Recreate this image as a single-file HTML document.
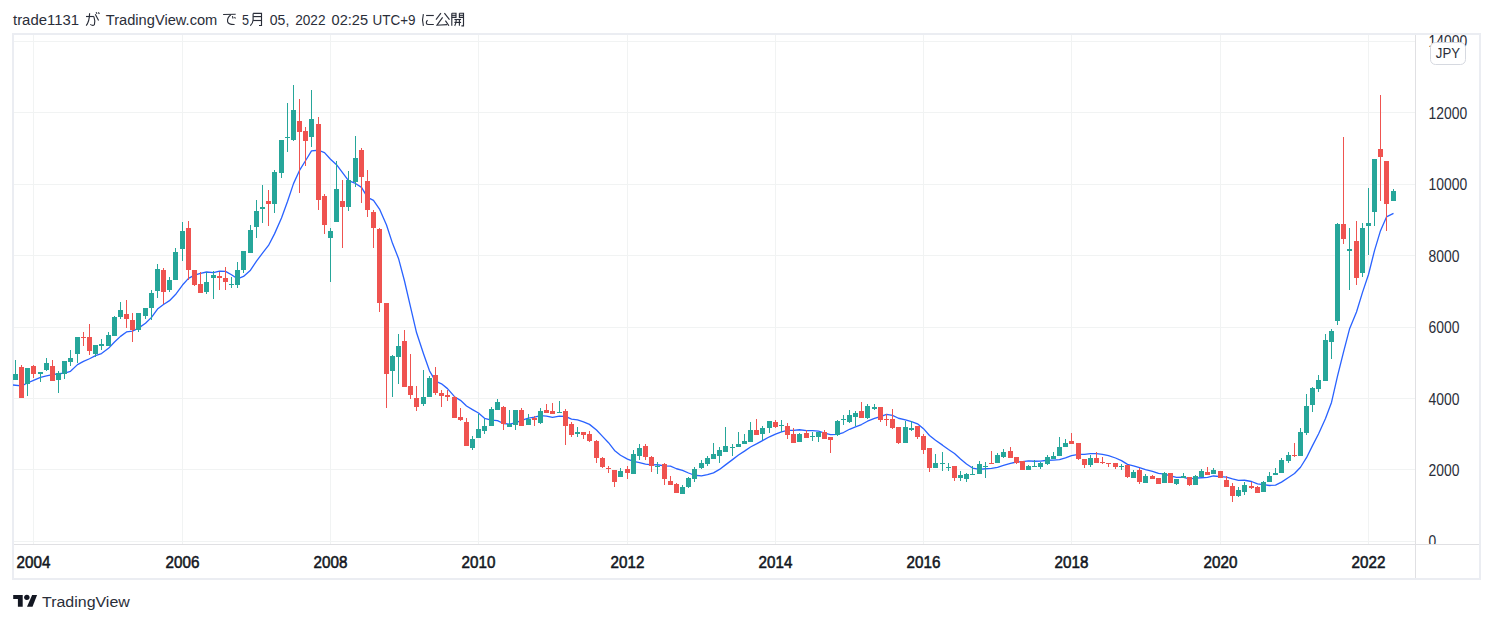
<!DOCTYPE html>
<html><head><meta charset="utf-8"><style>
html,body{margin:0;padding:0;background:#fff;}
body{width:1493px;height:623px;position:relative;overflow:hidden;font-family:"Liberation Sans",sans-serif;}
#hdr{position:absolute;left:13px;top:9px;font-size:15px;color:#434651;white-space:nowrap;line-height:18px;}
svg{position:absolute;left:0;top:0;}
.pl{font-size:16px;fill:#2a2e39;font-family:"Liberation Sans",sans-serif;}
.tl{font-size:16px;font-weight:normal;fill:#131722;stroke:#131722;stroke-width:0.55px;font-family:"Liberation Sans",sans-serif;}
.hd{font-size:15.5px;fill:#2a2e39;font-family:"Liberation Sans",sans-serif;}
.hdj{font-size:14px;fill:#2a2e39;font-family:"Liberation Sans",sans-serif;}
.lg{font-size:15.5px;fill:#2a2e39;font-family:"Liberation Sans",sans-serif;}
.jpy{font-size:15px;fill:#2a2e39;font-family:"Liberation Sans",sans-serif;}
#logo{position:absolute;left:13px;top:592px;}
#logotxt{position:absolute;left:42px;top:591px;font-size:16px;color:#131722;line-height:20px;}
</style></head><body>
<svg width="1493" height="623" viewBox="0 0 1493 623" shape-rendering="crispEdges">
<rect x="14" y="41" width="1401" height="1" fill="#f1f3f3"/><rect x="14" y="112" width="1401" height="1" fill="#f1f3f3"/><rect x="14" y="184" width="1401" height="1" fill="#f1f3f3"/><rect x="14" y="255" width="1401" height="1" fill="#f1f3f3"/><rect x="14" y="327" width="1401" height="1" fill="#f1f3f3"/><rect x="14" y="398" width="1401" height="1" fill="#f1f3f3"/><rect x="14" y="469" width="1401" height="1" fill="#f1f3f3"/><rect x="14" y="541" width="1401" height="1" fill="#f1f3f3"/><rect x="33" y="35" width="1" height="509" fill="#f1f3f3"/><rect x="182" y="35" width="1" height="509" fill="#f1f3f3"/><rect x="330" y="35" width="1" height="509" fill="#f1f3f3"/><rect x="478" y="35" width="1" height="509" fill="#f1f3f3"/><rect x="627" y="35" width="1" height="509" fill="#f1f3f3"/><rect x="775" y="35" width="1" height="509" fill="#f1f3f3"/><rect x="923" y="35" width="1" height="509" fill="#f1f3f3"/><rect x="1071" y="35" width="1" height="509" fill="#f1f3f3"/><rect x="1220" y="35" width="1" height="509" fill="#f1f3f3"/><rect x="1368" y="35" width="1" height="509" fill="#f1f3f3"/>
<rect x="13" y="34" width="1467" height="545" fill="none" stroke="#ebedf2" stroke-width="2"/>
<path d="M13.00,385.00 L21.50,385.89 L27.50,382.99 L33.50,380.31 L40.50,377.33 L46.50,375.79 L52.50,374.70 L58.50,373.74 L64.50,373.09 L70.50,371.33 L77.50,364.62 L83.50,361.31 L89.50,358.74 L95.50,355.68 L101.50,353.52 L108.50,348.35 L114.50,342.04 L120.50,336.35 L126.50,331.97 L132.50,331.05 L138.50,328.13 L145.50,323.22 L151.50,317.37 L157.50,309.06 L163.50,304.43 L169.50,300.67 L175.50,294.57 L182.50,285.04 L188.50,278.34 L194.50,275.10 L200.50,273.28 L206.50,272.00 L213.50,272.70 L219.50,271.18 L225.50,271.33 L231.50,274.72 L237.50,278.81 L243.50,276.44 L250.50,270.16 L256.50,261.18 L262.50,253.14 L268.50,245.47 L274.50,233.87 L281.50,218.08 L287.50,201.56 L293.50,183.61 L299.50,170.46 L305.50,160.75 L311.50,150.87 L318.50,150.24 L324.50,152.64 L330.50,159.21 L336.50,164.72 L342.50,172.65 L348.50,180.54 L355.50,183.43 L361.50,187.35 L367.50,197.31 L373.50,200.42 L379.50,209.11 L386.50,225.01 L392.50,243.35 L398.50,258.42 L404.50,280.98 L410.50,306.97 L416.50,332.56 L423.50,353.77 L429.50,370.80 L435.50,381.14 L441.50,383.83 L447.50,388.62 L454.50,396.68 L460.50,400.34 L466.50,406.02 L472.50,409.59 L478.50,413.03 L484.50,418.35 L491.50,420.08 L497.50,420.64 L503.50,423.52 L509.50,424.09 L515.50,422.82 L521.50,420.47 L528.50,418.14 L534.50,417.21 L540.50,415.56 L546.50,416.05 L552.50,417.39 L559.50,416.06 L565.50,416.31 L571.50,419.12 L577.50,419.92 L583.50,421.84 L589.50,424.38 L596.50,430.04 L602.50,436.38 L608.50,442.69 L614.50,450.40 L620.50,455.22 L627.50,459.11 L633.50,461.29 L639.50,462.56 L645.50,464.11 L651.50,464.88 L657.50,464.76 L664.50,465.82 L670.50,466.21 L676.50,468.75 L682.50,470.37 L688.50,473.00 L694.50,475.24 L701.50,475.78 L707.50,474.56 L713.50,472.89 L719.50,469.40 L725.50,464.87 L732.50,459.63 L738.50,455.00 L744.50,451.13 L750.50,447.02 L756.50,443.93 L762.50,440.58 L769.50,436.79 L775.50,434.12 L781.50,431.78 L787.50,430.47 L793.50,430.43 L799.50,429.74 L806.50,430.61 L812.50,430.70 L818.50,431.15 L824.50,433.14 L830.50,434.68 L837.50,434.28 L843.50,432.51 L849.50,429.29 L855.50,426.81 L861.50,424.52 L867.50,421.21 L874.50,418.48 L880.50,416.52 L886.50,414.48 L892.50,415.41 L898.50,418.25 L905.50,419.83 L911.50,421.63 L917.50,423.80 L923.50,428.69 L929.50,435.47 L935.50,440.29 L942.50,445.15 L948.50,449.57 L954.50,453.55 L960.50,458.93 L966.50,464.05 L972.50,468.07 L979.50,469.38 L985.50,468.76 L991.50,468.47 L997.50,467.30 L1003.50,465.48 L1010.50,463.28 L1016.50,462.01 L1022.50,461.65 L1028.50,460.91 L1034.50,461.24 L1040.50,461.05 L1047.50,460.25 L1053.50,460.17 L1059.50,459.54 L1065.50,457.82 L1071.50,455.68 L1078.50,454.47 L1084.50,454.40 L1090.50,453.59 L1096.50,453.68 L1102.50,454.45 L1108.50,455.60 L1115.50,458.00 L1121.50,460.59 L1127.50,464.34 L1133.50,465.83 L1139.50,467.72 L1145.50,469.65 L1152.50,471.27 L1158.50,473.40 L1164.50,474.21 L1170.50,475.85 L1176.50,477.32 L1183.50,477.27 L1189.50,478.78 L1195.50,478.20 L1201.50,477.76 L1207.50,477.42 L1213.50,475.99 L1220.50,476.62 L1226.50,477.08 L1232.50,478.90 L1238.50,480.35 L1244.50,480.26 L1251.50,481.51 L1257.50,483.90 L1263.50,484.71 L1269.50,485.49 L1275.50,485.04 L1281.50,482.15 L1288.50,477.56 L1294.50,473.54 L1300.50,467.24 L1306.50,457.69 L1312.50,445.64 L1318.50,433.95 L1325.50,418.44 L1331.50,402.40 L1337.50,376.09 L1343.50,352.09 L1349.50,329.09 L1356.50,311.95 L1362.50,292.37 L1368.50,274.52 L1374.50,250.57 L1380.50,230.68 L1386.50,216.89 L1393.50,213.36" fill="none" stroke="#2962ff" stroke-width="1.3" stroke-linejoin="round" shape-rendering="geometricPrecision"/>
<rect x="15" y="360" width="1" height="20" fill="#26a69a"/><rect x="13" y="374" width="5" height="6" fill="#26a69a"/><rect x="21" y="365" width="1" height="33" fill="#ef5350"/><rect x="19" y="367" width="5" height="31" fill="#ef5350"/><rect x="27" y="368" width="1" height="28" fill="#26a69a"/><rect x="25" y="368" width="5" height="16" fill="#26a69a"/><rect x="33" y="365" width="1" height="13" fill="#ef5350"/><rect x="31" y="366" width="5" height="8" fill="#ef5350"/><rect x="40" y="372" width="1" height="10" fill="#26a69a"/><rect x="38" y="372" width="5" height="2" fill="#26a69a"/><rect x="46" y="358" width="1" height="13" fill="#26a69a"/><rect x="44" y="363" width="5" height="7" fill="#26a69a"/><rect x="52" y="360" width="1" height="21" fill="#ef5350"/><rect x="50" y="366" width="5" height="15" fill="#ef5350"/><rect x="58" y="371" width="1" height="22" fill="#26a69a"/><rect x="56" y="373" width="5" height="7" fill="#26a69a"/><rect x="64" y="361" width="1" height="18" fill="#26a69a"/><rect x="62" y="361" width="5" height="13" fill="#26a69a"/><rect x="70" y="350" width="1" height="16" fill="#26a69a"/><rect x="68" y="358" width="5" height="4" fill="#26a69a"/><rect x="77" y="337" width="1" height="26" fill="#26a69a"/><rect x="75" y="337" width="5" height="17" fill="#26a69a"/><rect x="83" y="332" width="1" height="14" fill="#ef5350"/><rect x="81" y="337" width="5" height="1" fill="#ef5350"/><rect x="89" y="324" width="1" height="31" fill="#ef5350"/><rect x="87" y="337" width="5" height="14" fill="#ef5350"/><rect x="95" y="345" width="1" height="12" fill="#26a69a"/><rect x="93" y="345" width="5" height="9" fill="#26a69a"/><rect x="101" y="339" width="1" height="11" fill="#26a69a"/><rect x="99" y="344" width="5" height="2" fill="#26a69a"/><rect x="108" y="332" width="1" height="14" fill="#26a69a"/><rect x="106" y="335" width="5" height="11" fill="#26a69a"/><rect x="114" y="316" width="1" height="20" fill="#26a69a"/><rect x="112" y="317" width="5" height="19" fill="#26a69a"/><rect x="120" y="302" width="1" height="17" fill="#26a69a"/><rect x="118" y="310" width="5" height="7" fill="#26a69a"/><rect x="126" y="300" width="1" height="28" fill="#ef5350"/><rect x="124" y="314" width="5" height="5" fill="#ef5350"/><rect x="132" y="313" width="1" height="29" fill="#ef5350"/><rect x="130" y="320" width="5" height="10" fill="#ef5350"/><rect x="138" y="313" width="1" height="19" fill="#26a69a"/><rect x="136" y="313" width="5" height="17" fill="#26a69a"/><rect x="145" y="308" width="1" height="11" fill="#26a69a"/><rect x="143" y="308" width="5" height="8" fill="#26a69a"/><rect x="151" y="290" width="1" height="30" fill="#26a69a"/><rect x="149" y="293" width="5" height="15" fill="#26a69a"/><rect x="157" y="264" width="1" height="34" fill="#26a69a"/><rect x="155" y="269" width="5" height="22" fill="#26a69a"/><rect x="163" y="268" width="1" height="36" fill="#ef5350"/><rect x="161" y="270" width="5" height="22" fill="#ef5350"/><rect x="169" y="277" width="1" height="15" fill="#26a69a"/><rect x="167" y="280" width="5" height="10" fill="#26a69a"/><rect x="175" y="248" width="1" height="32" fill="#26a69a"/><rect x="173" y="252" width="5" height="28" fill="#26a69a"/><rect x="182" y="222" width="1" height="39" fill="#26a69a"/><rect x="180" y="231" width="5" height="18" fill="#26a69a"/><rect x="188" y="221" width="1" height="59" fill="#ef5350"/><rect x="186" y="228" width="5" height="42" fill="#ef5350"/><rect x="194" y="270" width="1" height="16" fill="#ef5350"/><rect x="192" y="270" width="5" height="15" fill="#ef5350"/><rect x="200" y="272" width="1" height="21" fill="#ef5350"/><rect x="198" y="284" width="5" height="9" fill="#ef5350"/><rect x="206" y="272" width="1" height="22" fill="#26a69a"/><rect x="204" y="282" width="5" height="10" fill="#26a69a"/><rect x="213" y="271" width="1" height="28" fill="#26a69a"/><rect x="211" y="275" width="5" height="3" fill="#26a69a"/><rect x="219" y="272" width="1" height="18" fill="#ef5350"/><rect x="217" y="276" width="5" height="2" fill="#ef5350"/><rect x="225" y="267" width="1" height="23" fill="#ef5350"/><rect x="223" y="278" width="5" height="4" fill="#ef5350"/><rect x="231" y="277" width="1" height="11" fill="#26a69a"/><rect x="229" y="284" width="5" height="1" fill="#26a69a"/><rect x="237" y="262" width="1" height="26" fill="#26a69a"/><rect x="235" y="270" width="5" height="15" fill="#26a69a"/><rect x="243" y="251" width="1" height="22" fill="#26a69a"/><rect x="241" y="251" width="5" height="19" fill="#26a69a"/><rect x="250" y="225" width="1" height="28" fill="#26a69a"/><rect x="248" y="230" width="5" height="23" fill="#26a69a"/><rect x="256" y="200" width="1" height="38" fill="#26a69a"/><rect x="254" y="211" width="5" height="16" fill="#26a69a"/><rect x="262" y="185" width="1" height="38" fill="#26a69a"/><rect x="260" y="207" width="5" height="2" fill="#26a69a"/><rect x="268" y="190" width="1" height="36" fill="#ef5350"/><rect x="266" y="201" width="5" height="3" fill="#ef5350"/><rect x="274" y="170" width="1" height="43" fill="#26a69a"/><rect x="272" y="172" width="5" height="32" fill="#26a69a"/><rect x="281" y="140" width="1" height="38" fill="#26a69a"/><rect x="279" y="140" width="5" height="33" fill="#26a69a"/><rect x="287" y="103" width="1" height="49" fill="#26a69a"/><rect x="285" y="137" width="5" height="1" fill="#26a69a"/><rect x="293" y="85" width="1" height="56" fill="#26a69a"/><rect x="291" y="110" width="5" height="30" fill="#26a69a"/><rect x="299" y="99" width="1" height="94" fill="#ef5350"/><rect x="297" y="121" width="5" height="11" fill="#ef5350"/><rect x="305" y="127" width="1" height="39" fill="#ef5350"/><rect x="303" y="131" width="5" height="10" fill="#ef5350"/><rect x="311" y="90" width="1" height="57" fill="#26a69a"/><rect x="309" y="119" width="5" height="18" fill="#26a69a"/><rect x="318" y="117" width="1" height="93" fill="#ef5350"/><rect x="316" y="124" width="5" height="76" fill="#ef5350"/><rect x="324" y="194" width="1" height="40" fill="#ef5350"/><rect x="322" y="196" width="5" height="29" fill="#ef5350"/><rect x="330" y="228" width="1" height="54" fill="#26a69a"/><rect x="328" y="231" width="5" height="7" fill="#26a69a"/><rect x="336" y="161" width="1" height="61" fill="#26a69a"/><rect x="334" y="189" width="5" height="33" fill="#26a69a"/><rect x="342" y="180" width="1" height="68" fill="#ef5350"/><rect x="340" y="201" width="5" height="6" fill="#ef5350"/><rect x="348" y="171" width="1" height="40" fill="#26a69a"/><rect x="346" y="180" width="5" height="27" fill="#26a69a"/><rect x="355" y="136" width="1" height="51" fill="#26a69a"/><rect x="353" y="158" width="5" height="24" fill="#26a69a"/><rect x="361" y="148" width="1" height="55" fill="#ef5350"/><rect x="359" y="150" width="5" height="27" fill="#ef5350"/><rect x="367" y="170" width="1" height="47" fill="#ef5350"/><rect x="365" y="181" width="5" height="29" fill="#ef5350"/><rect x="373" y="210" width="1" height="38" fill="#ef5350"/><rect x="371" y="212" width="5" height="16" fill="#ef5350"/><rect x="379" y="228" width="1" height="84" fill="#ef5350"/><rect x="377" y="229" width="5" height="74" fill="#ef5350"/><rect x="386" y="303" width="1" height="105" fill="#ef5350"/><rect x="384" y="303" width="5" height="71" fill="#ef5350"/><rect x="392" y="355" width="1" height="42" fill="#26a69a"/><rect x="390" y="356" width="5" height="15" fill="#26a69a"/><rect x="398" y="334" width="1" height="50" fill="#26a69a"/><rect x="396" y="346" width="5" height="11" fill="#26a69a"/><rect x="404" y="330" width="1" height="57" fill="#ef5350"/><rect x="402" y="341" width="5" height="46" fill="#ef5350"/><rect x="410" y="354" width="1" height="45" fill="#ef5350"/><rect x="408" y="386" width="5" height="9" fill="#ef5350"/><rect x="416" y="386" width="1" height="25" fill="#ef5350"/><rect x="414" y="398" width="5" height="9" fill="#ef5350"/><rect x="423" y="370" width="1" height="36" fill="#26a69a"/><rect x="421" y="397" width="5" height="7" fill="#26a69a"/><rect x="429" y="376" width="1" height="21" fill="#26a69a"/><rect x="427" y="378" width="5" height="19" fill="#26a69a"/><rect x="435" y="367" width="1" height="28" fill="#ef5350"/><rect x="433" y="375" width="5" height="18" fill="#ef5350"/><rect x="441" y="390" width="1" height="17" fill="#ef5350"/><rect x="439" y="393" width="5" height="3" fill="#ef5350"/><rect x="447" y="390" width="1" height="11" fill="#ef5350"/><rect x="445" y="395" width="5" height="2" fill="#ef5350"/><rect x="454" y="396" width="1" height="22" fill="#ef5350"/><rect x="452" y="397" width="5" height="21" fill="#ef5350"/><rect x="460" y="408" width="1" height="13" fill="#ef5350"/><rect x="458" y="417" width="5" height="3" fill="#ef5350"/><rect x="466" y="418" width="1" height="28" fill="#ef5350"/><rect x="464" y="422" width="5" height="24" fill="#ef5350"/><rect x="472" y="436" width="1" height="14" fill="#26a69a"/><rect x="470" y="439" width="5" height="9" fill="#26a69a"/><rect x="478" y="414" width="1" height="24" fill="#26a69a"/><rect x="476" y="429" width="5" height="9" fill="#26a69a"/><rect x="484" y="419" width="1" height="15" fill="#26a69a"/><rect x="482" y="426" width="5" height="5" fill="#26a69a"/><rect x="491" y="407" width="1" height="19" fill="#26a69a"/><rect x="489" y="409" width="5" height="17" fill="#26a69a"/><rect x="497" y="399" width="1" height="11" fill="#26a69a"/><rect x="495" y="402" width="5" height="8" fill="#26a69a"/><rect x="503" y="406" width="1" height="24" fill="#ef5350"/><rect x="501" y="407" width="5" height="17" fill="#ef5350"/><rect x="509" y="410" width="1" height="17" fill="#26a69a"/><rect x="507" y="424" width="5" height="3" fill="#26a69a"/><rect x="515" y="410" width="1" height="20" fill="#26a69a"/><rect x="513" y="410" width="5" height="15" fill="#26a69a"/><rect x="521" y="408" width="1" height="18" fill="#ef5350"/><rect x="519" y="410" width="5" height="16" fill="#ef5350"/><rect x="528" y="414" width="1" height="11" fill="#26a69a"/><rect x="526" y="419" width="5" height="6" fill="#26a69a"/><rect x="534" y="416" width="1" height="10" fill="#ef5350"/><rect x="532" y="418" width="5" height="2" fill="#ef5350"/><rect x="540" y="408" width="1" height="16" fill="#26a69a"/><rect x="538" y="411" width="5" height="12" fill="#26a69a"/><rect x="546" y="404" width="1" height="9" fill="#ef5350"/><rect x="544" y="410" width="5" height="3" fill="#ef5350"/><rect x="552" y="403" width="1" height="11" fill="#ef5350"/><rect x="550" y="411" width="5" height="3" fill="#ef5350"/><rect x="559" y="401" width="1" height="12" fill="#26a69a"/><rect x="557" y="412" width="5" height="1" fill="#26a69a"/><rect x="565" y="409" width="1" height="36" fill="#ef5350"/><rect x="563" y="411" width="5" height="15" fill="#ef5350"/><rect x="571" y="422" width="1" height="15" fill="#ef5350"/><rect x="569" y="424" width="5" height="11" fill="#ef5350"/><rect x="577" y="427" width="1" height="10" fill="#26a69a"/><rect x="575" y="432" width="5" height="2" fill="#26a69a"/><rect x="583" y="432" width="1" height="7" fill="#ef5350"/><rect x="581" y="432" width="5" height="3" fill="#ef5350"/><rect x="589" y="431" width="1" height="11" fill="#ef5350"/><rect x="587" y="434" width="5" height="7" fill="#ef5350"/><rect x="596" y="440" width="1" height="23" fill="#ef5350"/><rect x="594" y="441" width="5" height="17" fill="#ef5350"/><rect x="602" y="457" width="1" height="11" fill="#ef5350"/><rect x="600" y="458" width="5" height="9" fill="#ef5350"/><rect x="608" y="466" width="1" height="7" fill="#ef5350"/><rect x="606" y="468" width="5" height="1" fill="#ef5350"/><rect x="614" y="470" width="1" height="17" fill="#ef5350"/><rect x="612" y="470" width="5" height="12" fill="#ef5350"/><rect x="620" y="468" width="1" height="9" fill="#26a69a"/><rect x="618" y="471" width="5" height="6" fill="#26a69a"/><rect x="627" y="466" width="1" height="13" fill="#ef5350"/><rect x="625" y="469" width="5" height="4" fill="#ef5350"/><rect x="633" y="450" width="1" height="24" fill="#26a69a"/><rect x="631" y="454" width="5" height="20" fill="#26a69a"/><rect x="639" y="444" width="1" height="16" fill="#26a69a"/><rect x="637" y="448" width="5" height="8" fill="#26a69a"/><rect x="645" y="444" width="1" height="16" fill="#ef5350"/><rect x="643" y="446" width="5" height="11" fill="#ef5350"/><rect x="651" y="456" width="1" height="16" fill="#ef5350"/><rect x="649" y="457" width="5" height="9" fill="#ef5350"/><rect x="657" y="462" width="1" height="12" fill="#26a69a"/><rect x="655" y="466" width="5" height="1" fill="#26a69a"/><rect x="664" y="463" width="1" height="22" fill="#ef5350"/><rect x="662" y="464" width="5" height="15" fill="#ef5350"/><rect x="670" y="476" width="1" height="9" fill="#ef5350"/><rect x="668" y="481" width="5" height="4" fill="#ef5350"/><rect x="676" y="483" width="1" height="10" fill="#ef5350"/><rect x="674" y="484" width="5" height="9" fill="#ef5350"/><rect x="682" y="485" width="1" height="9" fill="#26a69a"/><rect x="680" y="487" width="5" height="7" fill="#26a69a"/><rect x="688" y="477" width="1" height="11" fill="#26a69a"/><rect x="686" y="478" width="5" height="9" fill="#26a69a"/><rect x="694" y="467" width="1" height="15" fill="#26a69a"/><rect x="692" y="469" width="5" height="10" fill="#26a69a"/><rect x="701" y="460" width="1" height="9" fill="#26a69a"/><rect x="699" y="463" width="5" height="5" fill="#26a69a"/><rect x="707" y="456" width="1" height="10" fill="#26a69a"/><rect x="705" y="458" width="5" height="6" fill="#26a69a"/><rect x="713" y="443" width="1" height="16" fill="#26a69a"/><rect x="711" y="454" width="5" height="5" fill="#26a69a"/><rect x="719" y="447" width="1" height="16" fill="#26a69a"/><rect x="717" y="450" width="5" height="6" fill="#26a69a"/><rect x="725" y="427" width="1" height="25" fill="#26a69a"/><rect x="723" y="446" width="5" height="6" fill="#26a69a"/><rect x="732" y="444" width="1" height="12" fill="#26a69a"/><rect x="730" y="447" width="5" height="1" fill="#26a69a"/><rect x="738" y="432" width="1" height="15" fill="#26a69a"/><rect x="736" y="444" width="5" height="3" fill="#26a69a"/><rect x="744" y="434" width="1" height="10" fill="#26a69a"/><rect x="742" y="441" width="5" height="3" fill="#26a69a"/><rect x="750" y="422" width="1" height="20" fill="#26a69a"/><rect x="748" y="430" width="5" height="12" fill="#26a69a"/><rect x="756" y="419" width="1" height="16" fill="#ef5350"/><rect x="754" y="430" width="5" height="5" fill="#ef5350"/><rect x="762" y="426" width="1" height="14" fill="#26a69a"/><rect x="760" y="428" width="5" height="6" fill="#26a69a"/><rect x="769" y="421" width="1" height="12" fill="#26a69a"/><rect x="767" y="421" width="5" height="7" fill="#26a69a"/><rect x="775" y="420" width="1" height="8" fill="#ef5350"/><rect x="773" y="422" width="5" height="5" fill="#ef5350"/><rect x="781" y="420" width="1" height="12" fill="#26a69a"/><rect x="779" y="425" width="5" height="1" fill="#26a69a"/><rect x="787" y="423" width="1" height="16" fill="#ef5350"/><rect x="785" y="426" width="5" height="9" fill="#ef5350"/><rect x="793" y="428" width="1" height="15" fill="#ef5350"/><rect x="791" y="434" width="5" height="9" fill="#ef5350"/><rect x="799" y="433" width="1" height="9" fill="#26a69a"/><rect x="797" y="434" width="5" height="8" fill="#26a69a"/><rect x="806" y="430" width="1" height="8" fill="#ef5350"/><rect x="804" y="433" width="5" height="5" fill="#ef5350"/><rect x="812" y="432" width="1" height="9" fill="#26a69a"/><rect x="810" y="436" width="5" height="1" fill="#26a69a"/><rect x="818" y="432" width="1" height="10" fill="#26a69a"/><rect x="816" y="432" width="5" height="5" fill="#26a69a"/><rect x="824" y="430" width="1" height="9" fill="#ef5350"/><rect x="822" y="432" width="5" height="7" fill="#ef5350"/><rect x="830" y="437" width="1" height="16" fill="#ef5350"/><rect x="828" y="437" width="5" height="3" fill="#ef5350"/><rect x="837" y="420" width="1" height="16" fill="#26a69a"/><rect x="835" y="421" width="5" height="14" fill="#26a69a"/><rect x="843" y="415" width="1" height="10" fill="#26a69a"/><rect x="841" y="419" width="5" height="1" fill="#26a69a"/><rect x="849" y="410" width="1" height="13" fill="#26a69a"/><rect x="847" y="415" width="5" height="7" fill="#26a69a"/><rect x="855" y="411" width="1" height="15" fill="#26a69a"/><rect x="853" y="413" width="5" height="4" fill="#26a69a"/><rect x="861" y="402" width="1" height="16" fill="#ef5350"/><rect x="859" y="411" width="5" height="7" fill="#ef5350"/><rect x="867" y="404" width="1" height="15" fill="#26a69a"/><rect x="865" y="406" width="5" height="12" fill="#26a69a"/><rect x="874" y="404" width="1" height="6" fill="#26a69a"/><rect x="872" y="407" width="5" height="2" fill="#26a69a"/><rect x="880" y="407" width="1" height="15" fill="#ef5350"/><rect x="878" y="407" width="5" height="13" fill="#ef5350"/><rect x="886" y="414" width="1" height="12" fill="#ef5350"/><rect x="884" y="419" width="5" height="1" fill="#ef5350"/><rect x="892" y="409" width="1" height="20" fill="#ef5350"/><rect x="890" y="419" width="5" height="9" fill="#ef5350"/><rect x="898" y="427" width="1" height="17" fill="#ef5350"/><rect x="896" y="427" width="5" height="16" fill="#ef5350"/><rect x="905" y="421" width="1" height="22" fill="#26a69a"/><rect x="903" y="427" width="5" height="16" fill="#26a69a"/><rect x="911" y="421" width="1" height="10" fill="#26a69a"/><rect x="909" y="428" width="5" height="2" fill="#26a69a"/><rect x="917" y="426" width="1" height="13" fill="#ef5350"/><rect x="915" y="426" width="5" height="11" fill="#ef5350"/><rect x="923" y="434" width="1" height="20" fill="#ef5350"/><rect x="921" y="436" width="5" height="14" fill="#ef5350"/><rect x="929" y="448" width="1" height="24" fill="#ef5350"/><rect x="927" y="448" width="5" height="20" fill="#ef5350"/><rect x="935" y="454" width="1" height="14" fill="#26a69a"/><rect x="933" y="463" width="5" height="5" fill="#26a69a"/><rect x="942" y="452" width="1" height="19" fill="#26a69a"/><rect x="940" y="463" width="5" height="1" fill="#26a69a"/><rect x="948" y="463" width="1" height="8" fill="#26a69a"/><rect x="946" y="467" width="5" height="1" fill="#26a69a"/><rect x="954" y="466" width="1" height="15" fill="#ef5350"/><rect x="952" y="466" width="5" height="12" fill="#ef5350"/><rect x="960" y="471" width="1" height="10" fill="#26a69a"/><rect x="958" y="475" width="5" height="3" fill="#26a69a"/><rect x="966" y="473" width="1" height="9" fill="#26a69a"/><rect x="964" y="474" width="5" height="5" fill="#26a69a"/><rect x="972" y="466" width="1" height="9" fill="#26a69a"/><rect x="970" y="474" width="5" height="1" fill="#26a69a"/><rect x="979" y="461" width="1" height="13" fill="#26a69a"/><rect x="977" y="464" width="5" height="10" fill="#26a69a"/><rect x="985" y="462" width="1" height="16" fill="#26a69a"/><rect x="983" y="466" width="5" height="1" fill="#26a69a"/><rect x="991" y="451" width="1" height="13" fill="#ef5350"/><rect x="989" y="463" width="5" height="1" fill="#ef5350"/><rect x="997" y="453" width="1" height="10" fill="#26a69a"/><rect x="995" y="455" width="5" height="8" fill="#26a69a"/><rect x="1003" y="449" width="1" height="9" fill="#26a69a"/><rect x="1001" y="452" width="5" height="5" fill="#26a69a"/><rect x="1010" y="447" width="1" height="11" fill="#ef5350"/><rect x="1008" y="451" width="5" height="7" fill="#ef5350"/><rect x="1016" y="457" width="1" height="7" fill="#ef5350"/><rect x="1014" y="457" width="5" height="6" fill="#ef5350"/><rect x="1022" y="461" width="1" height="9" fill="#ef5350"/><rect x="1020" y="461" width="5" height="9" fill="#ef5350"/><rect x="1028" y="465" width="1" height="5" fill="#26a69a"/><rect x="1026" y="466" width="5" height="4" fill="#26a69a"/><rect x="1034" y="460" width="1" height="7" fill="#26a69a"/><rect x="1032" y="466" width="5" height="1" fill="#26a69a"/><rect x="1040" y="462" width="1" height="7" fill="#26a69a"/><rect x="1038" y="463" width="5" height="4" fill="#26a69a"/><rect x="1047" y="455" width="1" height="10" fill="#26a69a"/><rect x="1045" y="457" width="5" height="7" fill="#26a69a"/><rect x="1053" y="452" width="1" height="7" fill="#26a69a"/><rect x="1051" y="456" width="5" height="3" fill="#26a69a"/><rect x="1059" y="437" width="1" height="19" fill="#26a69a"/><rect x="1057" y="447" width="5" height="9" fill="#26a69a"/><rect x="1065" y="439" width="1" height="8" fill="#26a69a"/><rect x="1063" y="443" width="5" height="4" fill="#26a69a"/><rect x="1071" y="433" width="1" height="11" fill="#ef5350"/><rect x="1069" y="441" width="5" height="3" fill="#ef5350"/><rect x="1078" y="443" width="1" height="17" fill="#ef5350"/><rect x="1076" y="443" width="5" height="16" fill="#ef5350"/><rect x="1084" y="459" width="1" height="9" fill="#ef5350"/><rect x="1082" y="459" width="5" height="6" fill="#ef5350"/><rect x="1090" y="455" width="1" height="12" fill="#26a69a"/><rect x="1088" y="458" width="5" height="7" fill="#26a69a"/><rect x="1096" y="452" width="1" height="11" fill="#ef5350"/><rect x="1094" y="458" width="5" height="5" fill="#ef5350"/><rect x="1102" y="457" width="1" height="7" fill="#ef5350"/><rect x="1100" y="462" width="5" height="1" fill="#ef5350"/><rect x="1108" y="463" width="1" height="4" fill="#ef5350"/><rect x="1106" y="463" width="5" height="1" fill="#ef5350"/><rect x="1115" y="463" width="1" height="6" fill="#ef5350"/><rect x="1113" y="463" width="5" height="4" fill="#ef5350"/><rect x="1121" y="464" width="1" height="6" fill="#26a69a"/><rect x="1119" y="466" width="5" height="1" fill="#26a69a"/><rect x="1127" y="465" width="1" height="13" fill="#ef5350"/><rect x="1125" y="465" width="5" height="12" fill="#ef5350"/><rect x="1133" y="470" width="1" height="8" fill="#26a69a"/><rect x="1131" y="472" width="5" height="6" fill="#26a69a"/><rect x="1139" y="468" width="1" height="16" fill="#ef5350"/><rect x="1137" y="470" width="5" height="12" fill="#ef5350"/><rect x="1145" y="474" width="1" height="9" fill="#26a69a"/><rect x="1143" y="476" width="5" height="7" fill="#26a69a"/><rect x="1152" y="475" width="1" height="4" fill="#ef5350"/><rect x="1150" y="476" width="5" height="3" fill="#ef5350"/><rect x="1158" y="478" width="1" height="6" fill="#ef5350"/><rect x="1156" y="478" width="5" height="6" fill="#ef5350"/><rect x="1164" y="472" width="1" height="11" fill="#26a69a"/><rect x="1162" y="473" width="5" height="10" fill="#26a69a"/><rect x="1170" y="473" width="1" height="10" fill="#ef5350"/><rect x="1168" y="473" width="5" height="10" fill="#ef5350"/><rect x="1176" y="479" width="1" height="6" fill="#26a69a"/><rect x="1174" y="479" width="5" height="5" fill="#26a69a"/><rect x="1183" y="473" width="1" height="5" fill="#26a69a"/><rect x="1181" y="476" width="5" height="2" fill="#26a69a"/><rect x="1189" y="477" width="1" height="9" fill="#ef5350"/><rect x="1187" y="477" width="5" height="8" fill="#ef5350"/><rect x="1195" y="475" width="1" height="10" fill="#26a69a"/><rect x="1193" y="476" width="5" height="9" fill="#26a69a"/><rect x="1201" y="469" width="1" height="8" fill="#26a69a"/><rect x="1199" y="471" width="5" height="6" fill="#26a69a"/><rect x="1207" y="467" width="1" height="8" fill="#ef5350"/><rect x="1205" y="472" width="5" height="3" fill="#ef5350"/><rect x="1213" y="468" width="1" height="6" fill="#26a69a"/><rect x="1211" y="470" width="5" height="4" fill="#26a69a"/><rect x="1220" y="471" width="1" height="7" fill="#ef5350"/><rect x="1218" y="471" width="5" height="7" fill="#ef5350"/><rect x="1226" y="476" width="1" height="11" fill="#ef5350"/><rect x="1224" y="480" width="5" height="7" fill="#ef5350"/><rect x="1232" y="483" width="1" height="19" fill="#ef5350"/><rect x="1230" y="486" width="5" height="10" fill="#ef5350"/><rect x="1238" y="487" width="1" height="10" fill="#26a69a"/><rect x="1236" y="490" width="5" height="6" fill="#26a69a"/><rect x="1244" y="482" width="1" height="13" fill="#26a69a"/><rect x="1242" y="485" width="5" height="7" fill="#26a69a"/><rect x="1251" y="482" width="1" height="7" fill="#ef5350"/><rect x="1249" y="486" width="5" height="2" fill="#ef5350"/><rect x="1257" y="486" width="1" height="7" fill="#ef5350"/><rect x="1255" y="487" width="5" height="6" fill="#ef5350"/><rect x="1263" y="481" width="1" height="11" fill="#26a69a"/><rect x="1261" y="482" width="5" height="10" fill="#26a69a"/><rect x="1269" y="472" width="1" height="10" fill="#26a69a"/><rect x="1267" y="476" width="5" height="6" fill="#26a69a"/><rect x="1275" y="468" width="1" height="7" fill="#26a69a"/><rect x="1273" y="473" width="5" height="2" fill="#26a69a"/><rect x="1281" y="458" width="1" height="15" fill="#26a69a"/><rect x="1279" y="460" width="5" height="13" fill="#26a69a"/><rect x="1288" y="452" width="1" height="11" fill="#26a69a"/><rect x="1286" y="455" width="5" height="6" fill="#26a69a"/><rect x="1294" y="443" width="1" height="14" fill="#ef5350"/><rect x="1292" y="455" width="5" height="1" fill="#ef5350"/><rect x="1300" y="428" width="1" height="28" fill="#26a69a"/><rect x="1298" y="432" width="5" height="24" fill="#26a69a"/><rect x="1306" y="394" width="1" height="41" fill="#26a69a"/><rect x="1304" y="406" width="5" height="27" fill="#26a69a"/><rect x="1312" y="387" width="1" height="25" fill="#26a69a"/><rect x="1310" y="388" width="5" height="17" fill="#26a69a"/><rect x="1318" y="375" width="1" height="17" fill="#26a69a"/><rect x="1316" y="380" width="5" height="9" fill="#26a69a"/><rect x="1325" y="334" width="1" height="47" fill="#26a69a"/><rect x="1323" y="340" width="5" height="41" fill="#26a69a"/><rect x="1331" y="329" width="1" height="30" fill="#26a69a"/><rect x="1329" y="331" width="5" height="11" fill="#26a69a"/><rect x="1337" y="223" width="1" height="102" fill="#26a69a"/><rect x="1335" y="224" width="5" height="97" fill="#26a69a"/><rect x="1343" y="137" width="1" height="107" fill="#ef5350"/><rect x="1341" y="224" width="5" height="15" fill="#ef5350"/><rect x="1349" y="228" width="1" height="62" fill="#26a69a"/><rect x="1347" y="249" width="5" height="2" fill="#26a69a"/><rect x="1356" y="221" width="1" height="64" fill="#ef5350"/><rect x="1354" y="241" width="5" height="37" fill="#ef5350"/><rect x="1362" y="223" width="1" height="54" fill="#26a69a"/><rect x="1360" y="228" width="5" height="45" fill="#26a69a"/><rect x="1368" y="188" width="1" height="67" fill="#26a69a"/><rect x="1366" y="223" width="5" height="3" fill="#26a69a"/><rect x="1374" y="159" width="1" height="67" fill="#26a69a"/><rect x="1372" y="159" width="5" height="53" fill="#26a69a"/><rect x="1380" y="95" width="1" height="106" fill="#ef5350"/><rect x="1378" y="149" width="5" height="8" fill="#ef5350"/><rect x="1386" y="161" width="1" height="70" fill="#ef5350"/><rect x="1384" y="161" width="5" height="43" fill="#ef5350"/><rect x="1393" y="189" width="1" height="12" fill="#26a69a"/><rect x="1391" y="191" width="5" height="10" fill="#26a69a"/>
<rect x="1415" y="35" width="1" height="543" fill="#e0e0e3"/><rect x="14" y="544" width="1465" height="1" fill="#e0e0e3"/>
<clipPath id="pclip"><rect x="1416" y="35" width="63" height="509"/></clipPath><g clip-path="url(#pclip)"><text x="1428.6" y="47" textLength="38.6" lengthAdjust="spacingAndGlyphs" class="pl">14000</text><text x="1428.6" y="119" textLength="38.6" lengthAdjust="spacingAndGlyphs" class="pl">12000</text><text x="1428.6" y="190" textLength="38.6" lengthAdjust="spacingAndGlyphs" class="pl">10000</text><text x="1428.6" y="262" textLength="30.9" lengthAdjust="spacingAndGlyphs" class="pl">8000</text><text x="1428.6" y="333" textLength="30.9" lengthAdjust="spacingAndGlyphs" class="pl">6000</text><text x="1428.6" y="405" textLength="30.9" lengthAdjust="spacingAndGlyphs" class="pl">4000</text><text x="1428.6" y="476" textLength="30.9" lengthAdjust="spacingAndGlyphs" class="pl">2000</text><text x="1428.6" y="547" textLength="7.7" lengthAdjust="spacingAndGlyphs" class="pl">0</text></g><rect x="1430.5" y="42.5" width="35" height="22" rx="5" ry="5" fill="#fff" stroke="#d6d9e0" stroke-width="1" shape-rendering="geometricPrecision"/><text x="1435.8" y="58" textLength="24.2" lengthAdjust="spacingAndGlyphs" class="jpy">JPY</text>
<text x="16.6" y="568" textLength="33.8" lengthAdjust="spacingAndGlyphs" class="tl">2004</text><text x="165.6" y="568" textLength="33.8" lengthAdjust="spacingAndGlyphs" class="tl">2006</text><text x="313.6" y="568" textLength="33.8" lengthAdjust="spacingAndGlyphs" class="tl">2008</text><text x="461.6" y="568" textLength="33.8" lengthAdjust="spacingAndGlyphs" class="tl">2010</text><text x="610.6" y="568" textLength="33.8" lengthAdjust="spacingAndGlyphs" class="tl">2012</text><text x="758.6" y="568" textLength="33.8" lengthAdjust="spacingAndGlyphs" class="tl">2014</text><text x="906.6" y="568" textLength="33.8" lengthAdjust="spacingAndGlyphs" class="tl">2016</text><text x="1054.6" y="568" textLength="33.8" lengthAdjust="spacingAndGlyphs" class="tl">2018</text><text x="1203.6" y="568" textLength="33.8" lengthAdjust="spacingAndGlyphs" class="tl">2020</text><text x="1351.6" y="568" textLength="33.8" lengthAdjust="spacingAndGlyphs" class="tl">2022</text>
<text x="13.0" y="25" textLength="66.0" lengthAdjust="spacingAndGlyphs" class="hd">trade1131</text><text x="105.8" y="25" textLength="111.5" lengthAdjust="spacingAndGlyphs" class="hd">TradingView.com</text><text x="269.8" y="25" textLength="19.5" lengthAdjust="spacingAndGlyphs" class="hd">05,</text><text x="295.2" y="25" textLength="30.3" lengthAdjust="spacingAndGlyphs" class="hd">2022</text><text x="331.6" y="25" textLength="36.5" lengthAdjust="spacingAndGlyphs" class="hd">02:25</text><text x="372.6" y="25" textLength="43.0" lengthAdjust="spacingAndGlyphs" class="hd">UTC+9</text><text x="242.0" y="25" textLength="7.0" lengthAdjust="spacingAndGlyphs" class="hd">5</text><g fill="none" stroke="#2a2e39" stroke-width="1.15" stroke-linecap="butt" shape-rendering="geometricPrecision"><path d="M86.0,16.5 L93.9,16.5"/><path d="M89.6,13.2 C89.5,19 88.2,23 86.2,25.6"/><path d="M93.9,16.6 C94.9,19.5 94.8,23 94.4,24.6 C93.9,25.8 92,25.6 90.3,24.4"/><path d="M95.3,14.3 L98.6,20.4"/><path d="M96.1,12.3 L97.0,13.8"/><path d="M98.3,12.4 L99.4,13.8"/><path d="M223.1,14.5 L235.7,14.3"/><path d="M230.8,14.9 C228.3,16.8 227.2,19.2 227.6,21.6 C228,24 230,24.6 234.6,24.5"/><path d="M232.4,16.2 L233.1,18.5"/><path d="M234.5,17.1 L235.5,18.5"/><path d="M253.1,13.4 L253.1,20 C252.9,22.6 251.8,24.5 250.3,25.7"/><path d="M253.1,13.4 L261.5,13.4 L261.5,25.4 L259.0,25.5"/><path d="M253.1,16.6 L261.5,16.6"/><path d="M253.1,20.5 L261.5,20.5"/><path d="M423.4,14.2 C422.4,17.5 422.3,22 423.4,25.8"/><path d="M426.1,15.5 L433.8,15.5"/><path d="M427.6,20.3 C425.6,22 425.9,24.5 428.6,24.5 L433.8,24.5"/><path d="M440.9,13.2 L436.0,19.6"/><path d="M444.4,13.2 L449.5,19.6"/><path d="M442.6,17.4 L437.0,25.2 L447.2,24.6"/><path d="M445.4,20.6 L448.9,25.8"/><path d="M451.8,13.2 L451.8,25.8"/><path d="M451.8,13.2 L456.0,13.2 L456.0,17.4 L451.8,17.4"/><path d="M451.8,15.3 L456.0,15.3"/><path d="M459.4,13.2 L463.5,13.2 L463.5,25.8 L461.4,25.8"/><path d="M459.4,13.2 L459.4,17.4 L463.5,17.4"/><path d="M459.4,15.3 L463.5,15.3"/><path d="M454.4,19.5 L461.1,19.5"/><path d="M454.4,22.4 L461.1,22.4"/><path d="M456.3,19.5 C456.2,22.5 455.6,24.5 454.7,25.8"/><path d="M459.4,19.5 L459.4,25.8"/></g><text x="42" y="607" textLength="87.8" lengthAdjust="spacingAndGlyphs" class="lg">TradingView</text>
<g shape-rendering="geometricPrecision" fill="#131722"><path d="M13.2,595 H22.7 V606.7 H17.9 V599.1 H13.2 Z"/><circle cx="26.85" cy="597.35" r="2.7"/><path d="M32.1,595 H37.1 L32.5,606.7 H27 Z"/></g>
</svg>
</body></html>
